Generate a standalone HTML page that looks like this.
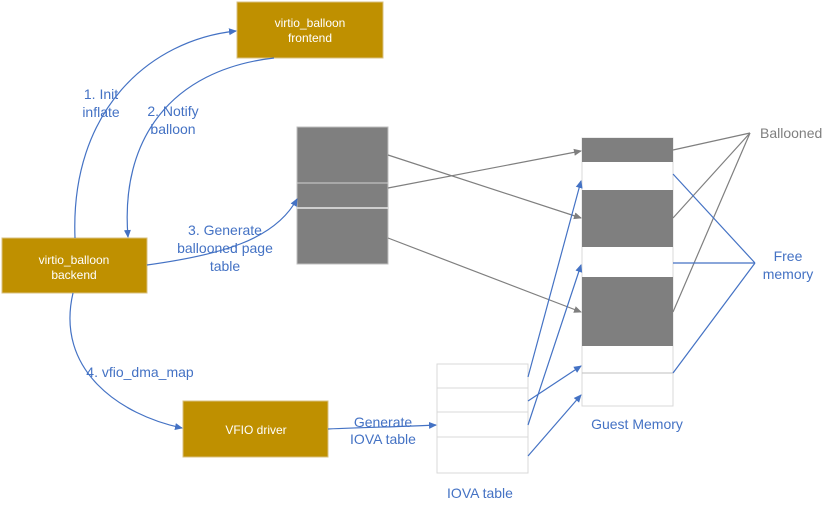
<!DOCTYPE html>
<html><head><style>body{margin:0;background:#fff}svg{display:block}text{font-family:"Liberation Sans",sans-serif}</style></head><body>
<svg width="832" height="510" viewBox="0 0 832 510" xmlns="http://www.w3.org/2000/svg">
<defs>
<marker id="ab" markerWidth="8" markerHeight="8" refX="7" refY="4" orient="auto" markerUnits="userSpaceOnUse"><path d="M0,0.5 L8,4 L0,7.5z" fill="#4472c4"/></marker>
<marker id="ag" markerWidth="8" markerHeight="8" refX="7" refY="4" orient="auto" markerUnits="userSpaceOnUse"><path d="M0,0.5 L8,4 L0,7.5z" fill="#7f7f7f"/></marker>
</defs>
<rect x="237" y="2" width="146" height="56" fill="#bf9000" stroke="#d8c080"/>
<text x="310" y="27" font-size="12" fill="#fff" text-anchor="middle">virtio_balloon</text>
<text x="310" y="42" font-size="12" fill="#fff" text-anchor="middle">frontend</text>
<rect x="2" y="238" width="145" height="55" fill="#bf9000" stroke="#d8c080"/>
<text x="74" y="264" font-size="12" fill="#fff" text-anchor="middle">virtio_balloon</text>
<text x="74" y="279" font-size="12" fill="#fff" text-anchor="middle">backend</text>
<rect x="183" y="401" width="145" height="56" fill="#bf9000" stroke="#d8c080"/>
<text x="256" y="434" font-size="12" fill="#fff" text-anchor="middle">VFIO driver</text>
<rect x="297" y="127" width="91" height="137" fill="#7f7f7f" stroke="#bfbfbf"/>
<line x1="297" y1="183" x2="388" y2="183" stroke="#d0d0d0"/>
<line x1="297" y1="208" x2="388" y2="208" stroke="#e8e8e8" stroke-width="1.5"/>
<rect x="582" y="138" width="91" height="268" fill="#fff" stroke="#d9d9d9"/>
<rect x="582" y="138" width="91" height="24" fill="#7f7f7f"/>
<rect x="582" y="190" width="91" height="57" fill="#7f7f7f"/>
<rect x="582" y="277" width="91" height="69" fill="#7f7f7f"/>
<line x1="582" y1="373" x2="673" y2="373" stroke="#bfbfbf"/>
<text x="637" y="429" font-size="14" fill="#4472c4" text-anchor="middle">Guest Memory</text>
<rect x="437" y="364" width="91" height="109" fill="#fff" stroke="#d9d9d9"/>
<line x1="437" y1="388" x2="528" y2="388" stroke="#d9d9d9"/>
<line x1="437" y1="412" x2="528" y2="412" stroke="#d9d9d9"/>
<line x1="437" y1="437" x2="528" y2="437" stroke="#d9d9d9"/>
<text x="480" y="498" font-size="14" fill="#4472c4" text-anchor="middle">IOVA table</text>
<g stroke="#7f7f7f" stroke-width="1.2" fill="none">
<line x1="388" y1="155" x2="581" y2="218" marker-end="url(#ag)"/>
<line x1="388" y1="188" x2="581" y2="151" marker-end="url(#ag)"/>
<line x1="388" y1="238" x2="581" y2="312" marker-end="url(#ag)"/>
<line x1="673" y1="150" x2="750" y2="133"/>
<line x1="673" y1="218" x2="750" y2="133"/>
<line x1="673" y1="312" x2="750" y2="133"/>
</g>
<text x="760" y="138" font-size="14" fill="#7f7f7f">Ballooned</text>
<g stroke="#4472c4" stroke-width="1.2" fill="none">
<line x1="673" y1="174" x2="755" y2="263"/>
<line x1="673" y1="263" x2="755" y2="263"/>
<line x1="673" y1="373" x2="755" y2="263"/>
<line x1="528" y1="377" x2="581" y2="181" marker-end="url(#ab)"/>
<line x1="528" y1="425" x2="581" y2="265" marker-end="url(#ab)"/>
<line x1="528" y1="401" x2="581" y2="366" marker-end="url(#ab)"/>
<line x1="528" y1="456" x2="581" y2="395" marker-end="url(#ab)"/>
<path d="M75,238 C70,110 150,40 236,31" marker-end="url(#ab)"/>
<path d="M274,58 C170,70 120,140 128,237" marker-end="url(#ab)"/>
<path d="M147,265 C220,255 275,240 297,199" marker-end="url(#ab)"/>
<path d="M73,293 C55,370 120,415 182,428" marker-end="url(#ab)"/>
<path d="M328,429 C370,427 400,427 436,425" marker-end="url(#ab)"/>
</g>
<g font-size="14" fill="#4472c4" text-anchor="middle">
<text x="788" y="261">Free</text><text x="788" y="279">memory</text>
<text x="101" y="99">1. Init</text><text x="101" y="117">inflate</text>
<text x="173" y="116">2. Notify</text><text x="173" y="134">balloon</text>
<text x="225" y="235">3. Generate</text><text x="225" y="253">ballooned page</text><text x="225" y="271">table</text>
<text x="140" y="377">4. vfio_dma_map</text>
<text x="383" y="427">Generate</text><text x="383" y="444">IOVA table</text>
</g>
</svg>
</body></html>
